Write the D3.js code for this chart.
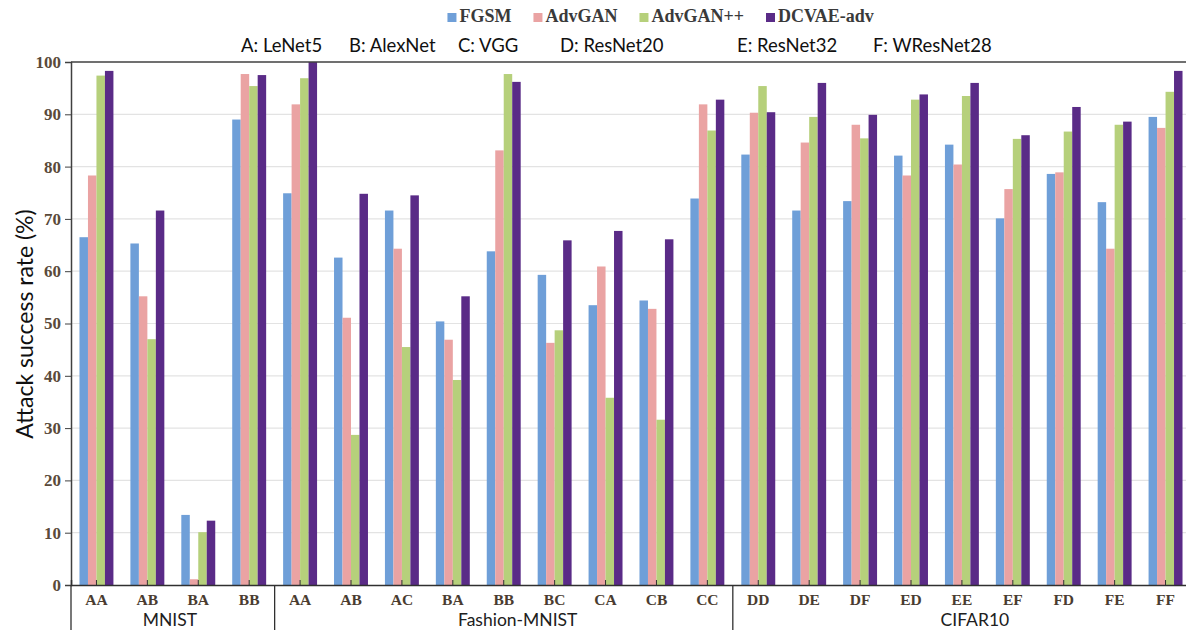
<!DOCTYPE html>
<html><head><meta charset="utf-8">
<script src="https://cdn.jsdelivr.net/npm/d3@7"></script>
<style>body{margin:0;background:#fff}svg{display:block}</style>
</head><body>
<svg id="c" width="1186" height="630"></svg>
<script>
const categories = ["AA","AB","BA","BB","AA","AB","AC","BA","BB","BC","CA","CB","CC","DD","DE","DF","ED","EE","EF","FD","FE","FF"];
const datasets = [{name:"MNIST", count:4},{name:"Fashion-MNIST", count:9},{name:"CIFAR10", count:9}];
const seriesNames = ["FGSM","AdvGAN","AdvGAN++","DCVAE-adv"];
const fgsm     = [66.5,65.3,13.4,89.0, 74.9,62.6,71.6,50.4,63.8,59.3,53.5,54.4,73.9, 82.3,71.6,73.4,82.1,84.2,70.1,78.6,73.2,89.5];
const advgan   = [78.3,55.2,1.1,97.7, 91.9,51.1,64.3,46.9,83.1,46.3,60.9,52.8,91.9, 90.3,84.6,88.0,78.3,80.4,75.7,78.9,64.3,87.4];
const advganpp = [97.4,47.0,10.1,95.4, 96.9,28.7,45.5,39.2,97.7,48.7,35.8,31.6,86.9, 95.4,89.5,85.4,92.8,93.5,85.3,86.7,88.0,94.3];
const dcvae    = [98.3,71.6,12.3,97.5, 100,74.8,74.5,55.2,96.2,65.9,67.7,66.1,92.8, 90.4,96.0,89.9,93.8,96.0,86.0,91.4,88.6,98.3];
const yTicks = [0,10,20,30,40,50,60,70,80,90,100];
const modelKey = ["A: LeNet5","B: AlexNet","C: VGG","D: ResNet20","E: ResNet32","F: WResNet28"];
const colors = ["#6f9fd8","#eaa3a3","#b6d07b","#5a2b87"];

const values = [fgsm, advgan, advganpp, dcvae];
const svg = d3.select("#c");
const pLeft = 71, pRight = 1191, pTop = 62, pBottom = 585;

const x0 = d3.scaleBand().domain(d3.range(categories.length)).range([pLeft, pRight]).padding(0);
const x1 = d3.scaleBand().domain(d3.range(4)).range([0, x0.bandwidth()]).paddingInner(0).paddingOuter(1);
const y = d3.scaleLinear().domain([0,100]).range([pBottom, pTop]);

// gridlines
svg.append("g").selectAll("line").data(yTicks.filter(d=>d>0 && d<100)).join("line")
  .attr("x1", pLeft).attr("x2", 1186).attr("y1", d=>y(d)).attr("y2", d=>y(d))
  .attr("stroke", "#e3e3e3").attr("stroke-width", 1.2);

// bars
const g = svg.append("g");
categories.forEach((c, i) => {
  values.forEach((vals, s) => {
    g.append("rect")
      .attr("x", x0(i) + x1(s))
      .attr("y", y(vals[i]))
      .attr("width", x1.bandwidth())
      .attr("height", y(0) - y(vals[i]))
      .attr("fill", colors[s]);
  });
});

// top border
svg.append("line").attr("x1", pLeft).attr("x2", 1186).attr("y1", y(100)).attr("y2", y(100))
  .attr("stroke", "#404040").attr("stroke-width", 1.5);

// y axis
const yAxis = svg.append("g").attr("transform", `translate(${pLeft},0)`)
  .call(d3.axisLeft(y).tickValues(yTicks).tickSize(6).tickPadding(4));
yAxis.select(".domain").attr("stroke", "#404040").attr("stroke-width", 1.5);
yAxis.selectAll(".tick line").attr("stroke", "#404040");
yAxis.selectAll("text").attr("font-family", "Liberation Serif").attr("font-weight", "bold")
  .attr("font-size", 17).attr("fill", "#5a4a3a");

// x axis
const xAxis = svg.append("g").attr("transform", `translate(0,${pBottom})`)
  .call(d3.axisBottom(x0).tickFormat(i => categories[i]).tickSize(-5).tickPadding(9));
xAxis.select(".domain").attr("stroke", "#303030").attr("stroke-width", 1.5);
xAxis.selectAll(".tick line").attr("stroke", "#303030");
xAxis.selectAll("text").attr("font-family", "Liberation Serif").attr("font-weight", "bold")
  .attr("font-size", 15.5).attr("fill", "#4a3c30");

// group separators and labels
let idx = 0;
const sepX = [x0(0)];
const labelShift = [-3, 14, 13];
datasets.forEach((d, k) => {
  const start = x0(idx);
  const end = idx + d.count < categories.length ? x0(idx + d.count) : pRight;
  svg.append("text").attr("x", (start + end) / 2 + labelShift[k])
    .attr("y", 626).attr("text-anchor", "middle")
    .attr("font-family", "Lato, 'Open Sans', sans-serif").attr("font-size", 17.5).attr("fill", "#202020")
    .text(d.name);
  idx += d.count;
  if (idx < categories.length) sepX.push(x0(idx));
});
svg.append("g").selectAll("line").data(sepX).join("line")
  .attr("x1", d=>d).attr("x2", d=>d).attr("y1", pBottom).attr("y2", 630)
  .attr("stroke", "#303030").attr("stroke-width", 1.3);

// y label
svg.append("text").attr("transform", "translate(33,324) rotate(-90)")
  .attr("text-anchor", "middle").attr("font-family", "Lato, 'Open Sans', sans-serif")
  .attr("font-size", 23).attr("fill", "#101010").text("Attack success rate (%)");

// legend: laid out right-to-left from the last item
const leg = svg.append("g").attr("font-family", "Liberation Serif").attr("font-weight", "bold")
  .attr("font-size", 18).attr("fill", "#3a3a3a");
const items = seriesNames.map((n, s) => {
  const it = leg.append("g");
  it.append("rect").attr("y", 13).attr("width", 9).attr("height", 9).attr("fill", colors[s]);
  const t = it.append("text").attr("x", 12).attr("y", 22).text(n);
  return {it, w: 12 + t.node().getComputedTextLength()};
});
let cx = 766;
for (let s = items.length - 1; s >= 0; s--) {
  if (s < items.length - 1) cx -= items[s].w + 22;
  items[s].it.attr("transform", `translate(${cx},0)`);
}

// model key
const keyX = [241, 349, 458, 560, 737, 873];
svg.append("g").selectAll("text").data(modelKey).join("text")
  .attr("x", (d,i)=>keyX[i]).attr("y", 52)
  .attr("font-family", "Lato, 'Open Sans', sans-serif").attr("font-size", 18.5).attr("fill", "#101010")
  .text(d=>d);
</script>
</body></html>
